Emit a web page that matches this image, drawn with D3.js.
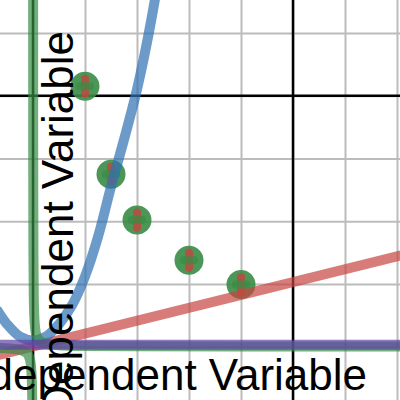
<!DOCTYPE html>
<html>
<head>
<meta charset="utf-8">
<script src="https://cdn.jsdelivr.net/npm/d3@7"></script>
<style>
  body { margin: 0; background: #fff; }
  svg { display: block; }
  .grid line { stroke: #bcbcbc; stroke-width: 2; }
  .grid path { display: none; }
</style>
</head>
<body>
<script>
'use strict';

// grid ticks (one line per unit)
let xTicks = [0, 1, 2, 3, 4, 5, 6, 7];
let yTicks = [0, 1, 2, 3, 4, 5];
let majorX = [0, 5];
let majorY = [4];

// measured points with error bars
let pointX = [1, 1.5, 2, 3, 4];
let pointY = [4.15, 2.75, 2.02, 1.38, 0.99];
let errX = [0.1, 0.1, 0.1, 0.1, 0.1];
let errY = [0.12, 0.12, 0.12, 0.12, 0.12];

// red straight line
let redX = [-0.7, 7.1];
let redY = [-0.14, 1.46];

// blue curve
let blueX = [-0.7, -0.5, -0.25, 0, 0.25, 0.5, 0.75, 1, 1.25, 1.5, 1.75, 2, 2.25, 2.5];
let blueY = [0.6, 0.36, 0.16, 0.1, 0.16, 0.36, 0.66, 1.12, 1.75, 2.55, 3.3, 4.1, 5.1, 6.3];

// green curve (two branches hugging the axes)
let greenRightX = [0.002, 0.004, 0.008, 0.015, 0.03, 0.06, 0.12, 0.25, 0.5, 1, 2, 4, 7.5];
let greenRightY = [6, 3, 1.5, 0.8, 0.4, 0.2, 0.1, 0.05, 0.025, 0.012, 0.006, 0.003, 0.0016];
let greenLeftX = [-0.7, -0.3, -0.12, -0.06, -0.03, -0.015, -0.008, -0.004, -0.002];
let greenLeftY = [-0.017, -0.04, -0.1, -0.2, -0.4, -0.8, -1.5, -3, -6];

// purple flat line
let purpleX = [-0.7, 7.1];
let purpleY = [0.03, 0.03];

const W = 400, H = 400;

let svg = d3.select('body')
  .append('svg')
  .attr('width', W)
  .attr('height', H);

let xScale = d3.scaleLinear().domain([-0.6346, 7.0577]).range([0, W]);
let yScale = d3.scaleLinear().domain([-0.849, 5.526]).range([H, 0]);

// grid lines from the axes
svg.append('g')
  .attr('class', 'grid')
  .attr('transform', 'translate(0,' + H + ')')
  .call(d3.axisBottom(xScale).tickValues(xTicks).tickSize(-H).tickFormat(''));

svg.append('g')
  .attr('class', 'grid')
  .call(d3.axisLeft(yScale).tickValues(yTicks).tickSize(-W).tickFormat(''));

// darker major lines
svg.selectAll('.majx')
  .data(majorX)
  .enter()
  .append('line')
    .attr('x1', (d) => xScale(d))
    .attr('x2', (d) => xScale(d))
    .attr('y1', 0)
    .attr('y2', H)
    .attr('stroke', '#000')
    .attr('stroke-width', 2.5);

svg.selectAll('.majy')
  .data(majorY)
  .enter()
  .append('line')
    .attr('x1', 0)
    .attr('x2', W)
    .attr('y1', (d) => yScale(d))
    .attr('y2', (d) => yScale(d))
    .attr('stroke', '#000')
    .attr('stroke-width', 2.5);

// points: circle + error bars
let pts = pointX.map((x, i) => ({ x: x, y: pointY[i], ex: errX[i], ey: errY[i] }));

svg.selectAll('.dot')
  .data(pts)
  .enter()
  .append('circle')
    .attr('cx', (d) => xScale(d.x))
    .attr('cy', (d) => yScale(d.y))
    .attr('r', 14.5)
    .attr('fill', '#388c46')
    .attr('fill-opacity', 0.9);

svg.selectAll('.ebY')
  .data(pts)
  .enter()
  .append('line')
    .attr('x1', (d) => xScale(d.x))
    .attr('x2', (d) => xScale(d.x))
    .attr('y1', (d) => yScale(d.y - d.ey))
    .attr('y2', (d) => yScale(d.y + d.ey))
    .attr('stroke', '#c74440')
    .attr('stroke-opacity', 0.8)
    .attr('stroke-width', 8)
    .attr('stroke-linecap', 'round');

svg.selectAll('.ebX')
  .data(pts)
  .enter()
  .append('line')
    .attr('x1', (d) => xScale(d.x - d.ex))
    .attr('x2', (d) => xScale(d.x + d.ex))
    .attr('y1', (d) => yScale(d.y))
    .attr('y2', (d) => yScale(d.y))
    .attr('stroke', '#388c46')
    .attr('stroke-opacity', 0.75)
    .attr('stroke-width', 8)
    .attr('stroke-linecap', 'round');

// curves
function drawCurve(xs, ys, color, curve) {
  let line = d3.line()
    .x((d) => xScale(d[0]))
    .y((d) => yScale(d[1]))
    .curve(curve || d3.curveLinear);
  svg.append('path')
    .attr('d', line(xs.map((x, i) => [x, ys[i]])))
    .attr('fill', 'none')
    .attr('stroke', color)
    .attr('stroke-opacity', 0.7)
    .attr('stroke-width', 10)
    .attr('stroke-linejoin', 'round');
}

drawCurve(redX, redY, '#c74440');
drawCurve(blueX, blueY, '#2d70b3', d3.curveCatmullRom);
drawCurve(greenRightX, greenRightY, '#388c46', d3.curveMonotoneX);
drawCurve(greenLeftX, greenLeftY, '#388c46', d3.curveMonotoneX);
drawCurve(purpleX, purpleY, '#6042a6');

// axis labels
svg.append('text')
  .attr('x', 367)
  .attr('y', 390)
  .attr('text-anchor', 'end')
  .style('font-family', '"Liberation Sans", Arial, sans-serif')
  .style('font-size', '44px')
  .text('Independent Variable');

svg.append('text')
  .attr('transform', 'translate(73, 31)rotate(-90)')
  .attr('text-anchor', 'end')
  .style('font-family', '"Liberation Sans", Arial, sans-serif')
  .style('font-size', '44px')
  .text('Dependent Variable');
</script>
</body>
</html>
